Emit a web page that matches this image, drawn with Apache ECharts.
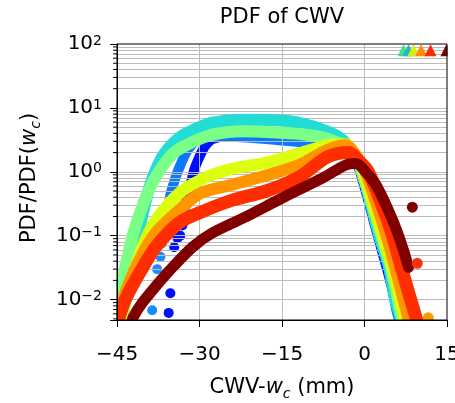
<!DOCTYPE html>
<html>
<head>
<meta charset="utf-8">
<script src="https://cdn.jsdelivr.net/npm/echarts@6/dist/echarts.min.js"></script>
<style>
  html, body { margin: 0; padding: 0; background: #fff; }
  #chart { width: 455px; height: 403px; }
</style>
</head>
<body>
<div id="chart"></div>
<script>
// Normalised PDFs of CWV relative to the critical value w_c, one curve per class.
const blueCurve = [[-33.1, 0.145], [-32.6, 0.30], [-31.7, 0.58], [-31.0, 1.05], [-29.9, 1.8], [-28.9, 2.6], [-27.5, 3.3], [-24, 3.7], [-18, 3.6], [-10, 3.0], [-4.4, 2.5], [-2.2, 1.8], [-0.8, 1.0], [2.4, 0.1], [4.1, 0.03], [6.1, 0.0068], [6.8, 0.004]];
const blueDots = [[-33.5, 0.10], [-34.0, 0.091], [-34.6, 0.066], [-35.3, 0.0126], [-35.6, 0.0062]];
const azureCurve = [[-36.4, 0.11], [-36.0, 0.17], [-35.3, 0.43], [-34.4, 0.79], [-33.5, 1.26], [-32.0, 2.3], [-29.9, 3.3], [-27.5, 3.6], [-20.8, 3.4], [-15, 3.1], [-9.8, 2.8], [-4.4, 2.4], [-2.2, 1.8], [-0.6, 1.0], [2.9, 0.1], [4.3, 0.031], [5.8, 0.0068], [6.5, 0.004]];
const azureDots = [[-36.8, 0.076], [-37.1, 0.047], [-37.7, 0.030], [-38.6, 0.0068]];
const cyanCurve = [[-44.2, 0.004], [-43.7, 0.0076], [-42.6, 0.032], [-40.9, 0.135], [-39.1, 0.57], [-36.8, 1.7], [-33.7, 3.4], [-30, 5.0], [-27.7, 5.9], [-22, 6.5], [-16, 6.4], [-11.7, 5.8], [-6.8, 4.3], [-3.9, 3.1], [-1.3, 1.5], [-0.4, 1.0], [2.7, 0.1], [4.5, 0.032], [5.6, 0.01], [6.3, 0.0063], [6.8, 0.004]];
const greenCurve = [[-45.3, 0.004], [-45, 0.0076], [-43.5, 0.032], [-41.7, 0.135], [-38.6, 0.66], [-34.9, 1.9], [-31, 3.0], [-27.7, 3.8], [-22, 4.3], [-17.6, 4.2], [-11.7, 3.9], [-6.8, 3.3], [-2.6, 2.2], [-0.8, 1.2], [3.1, 0.1], [4.8, 0.032], [6.6, 0.0063], [7.1, 0.004]];
const yellowCurve = [[-44.4, 0.004], [-44.0, 0.0062], [-42.2, 0.022], [-40.4, 0.066], [-38.0, 0.17], [-33.7, 0.46], [-28.9, 0.81], [-24.0, 1.12], [-17.6, 1.4], [-11.7, 1.96], [-6.8, 2.6], [-3.5, 2.7], [-1.3, 1.6], [-0.2, 1.0], [3.3, 0.1], [5.1, 0.032], [7.0, 0.0063], [7.5, 0.004]];
const orangeCurve = [[-44.8, 0.004], [-44.4, 0.0057], [-43.5, 0.0126], [-40.9, 0.042], [-38.0, 0.11], [-33.7, 0.25], [-29.9, 0.46], [-24.0, 0.63], [-17.6, 0.89], [-11.7, 1.3], [-6.8, 2.2], [-3.5, 2.6], [-1.1, 1.6], [0.2, 1.0], [4.0, 0.1], [6.2, 0.02], [7.7, 0.0063], [8.3, 0.004]];
const redCurve = [[-45, 0.0045], [-44.6, 0.0054], [-43.5, 0.010], [-40.9, 0.026], [-38.0, 0.066], [-33.7, 0.16], [-28.9, 0.25], [-24.0, 0.36], [-17.6, 0.51], [-11.7, 0.85], [-6.8, 1.7], [-2.9, 2.0], [-0.75, 1.4], [0.7, 1.0], [2.9, 0.35], [5.1, 0.1], [6.7, 0.032], [8.4, 0.01], [9.6, 0.0045]];
const darkRedCurve = [[-42.5, 0.004], [-42.0, 0.0054], [-40.4, 0.0089], [-38.0, 0.016], [-34.9, 0.032], [-31.3, 0.066], [-27.7, 0.11], [-22.0, 0.19], [-14.7, 0.40], [-7.5, 0.81], [-3.5, 1.27], [-1.6, 1.35], [0.2, 1.0], [2.3, 0.58], [5.3, 0.16], [7.1, 0.059], [8.0, 0.032]];
const strayDots = [[8.7, 0.28, '#800000'], [9.6, 0.037, '#ff3010'], [11.6, 0.0052, '#ff9a00']];
// Markers along the top of the panel
const triangleX = [7.1, 8.0, 8.9, 10.3, 12.0, 14.9];
const triangleY = 80;
const triangleColors = ['#3fe08a', '#20b8c8', '#d8ec10', '#ff8c00', '#ff2a00', '#800000'];

// Axis ticks and grid lines
const xTicks = { min: -45, max: 15, step: 15 };
const xGridLines = [-30, -15, 0];
const yRange = { min: 0.0048, max: 100 };
const yMajorLines = [0.01, 0.1, 1, 10];
const minorMantissas = [2, 3, 4, 5, 6, 7, 8, 9];
const minorDecades = [0.001, 0.01, 0.1, 1, 10];

const FONT = 'DejaVu Sans';
const GRID_COLOR = '#bcbcbc';
const PLOT = { left: 117, right: 8, top: 44, bottom: 83, width: 455, height: 403 };

const minorTicks = [];
minorDecades.forEach(d => minorMantissas.forEach(m => {
  const v = +(m * d).toPrecision(3);
  if (v > yRange.min && v < yRange.max) minorTicks.push(v);
}));

function minus(v) { return v < 0 ? '\u2212' + (-v) : String(v); }
function powLabel(v) {
  const e = Math.log10(v);
  const r = Math.round(e);
  if (Math.abs(e - r) > 1e-6) return '';
  return '{b|10}{s|' + minus(r) + '}';
}

function curve(data, color, width, z) {
  return {
    type: 'line', data: data, smooth: 0.3,
    symbol: 'none', showSymbol: false, clip: true, z: z, silent: true,
    lineStyle: { color: color, width: width, cap: 'round', join: 'round' }
  };
}
function dots(data, color, size, z) {
  return {
    type: 'scatter', data: data, symbolSize: size, z: z, silent: true,
    itemStyle: { color: color, opacity: 1 }
  };
}
function mask(x, y, w, h) {
  return { type: 'rect', z: 15, silent: true, shape: { x: x, y: y, width: w, height: h }, style: { fill: '#fff' } };
}
const axisNameRich = {
  n: { fontFamily: FONT, fontSize: 21, lineHeight: 21, fill: '#000', verticalAlign: 'top' },
  i: { fontFamily: FONT, fontSize: 21, lineHeight: 21, fontStyle: 'italic', fill: '#000', verticalAlign: 'top' },
  sub: { fontFamily: FONT, fontSize: 14, lineHeight: 14, fontStyle: 'italic', fill: '#000', padding: [10, 0, 0, 0], verticalAlign: 'top' }
};

const plotRight = PLOT.width - PLOT.right;
const plotBottom = PLOT.height - PLOT.bottom;

const chart = echarts.init(document.getElementById('chart'), null, { renderer: 'canvas' });
chart.setOption({
  animation: false,
  backgroundColor: '#fff',
  grid: {
    left: PLOT.left, right: PLOT.right, top: PLOT.top, bottom: PLOT.bottom,
    containLabel: false, outerBoundsMode: 'none', z: 16,
    show: true, borderColor: '#000', borderWidth: 1, backgroundColor: 'transparent'
  },
  xAxis: {
    type: 'value', min: xTicks.min, max: xTicks.max, interval: xTicks.step, z: 20,
    axisLine: { show: true, onZero: false, lineStyle: { color: '#000', width: 1 } },
    axisTick: { show: true, inside: false, length: 7, lineStyle: { color: '#000', width: 1 } },
    axisLabel: { color: '#000', fontFamily: FONT, fontSize: 20, margin: 25, formatter: v => minus(v) },
    splitLine: { show: false }
  },
  yAxis: {
    type: 'log', logBase: 10, min: yRange.min, max: yRange.max, z: 20,
    axisLine: { show: true, onZero: false, lineStyle: { color: '#000', width: 1 } },
    axisTick: { show: true, inside: false, length: 7, lineStyle: { color: '#000', width: 1 } },
    axisLabel: {
      color: '#000', margin: 15, formatter: powLabel,
      rich: {
        b: { fontFamily: FONT, fontSize: 20, color: '#000', lineHeight: 20, padding: [4, 0, 0, 0], verticalAlign: 'bottom' },
        s: { fontFamily: FONT, fontSize: 14, color: '#000', lineHeight: 14, verticalAlign: 'top' }
      }
    },
    splitLine: { show: false }
  },
  series: [
    {
      // grid lines (major and minor), kept beneath the curves
      type: 'scatter', data: [[xTicks.min, 1]], symbolSize: 0, z: 1, silent: true,
      markLine: {
        silent: true, symbol: 'none', label: { show: false }, animation: false,
        lineStyle: { color: GRID_COLOR, width: 1, type: 'solid' },
        data: yMajorLines.concat(minorTicks).map(v => ({ yAxis: v }))
          .concat(xGridLines.map(v => ({ xAxis: v })))
      }
    },
    {
      // minor log ticks on the left spine
      type: 'scatter', data: minorTicks.map(v => [xTicks.min, v]), clip: false, z: 21, silent: true,
      symbol: 'rect', symbolSize: [4, 1], symbolOffset: [-2, 0], itemStyle: { color: '#000', opacity: 1 }
    },
    curve(blueCurve, '#0010ff', 10, 3),
    dots(blueDots, '#0010ff', 10, 3),
    curve(azureCurve, '#0a78ff', 10, 4),
    dots(azureDots, '#1a8cff', 10, 4),
    curve(cyanCurve, '#22dcd6', 12, 5),
    curve(greenCurve, '#7cff86', 12, 6),
    curve(yellowCurve, '#dcff10', 12, 7),
    curve(orangeCurve, '#ff9600', 12, 8),
    curve(redCurve, '#ff2e00', 13, 9),
    curve(darkRedCurve, '#800000', 11, 10),
    {
      type: 'scatter', z: 11, silent: true, symbolSize: 11,
      data: strayDots.map(d => ({ value: [d[0], d[1]], itemStyle: { color: d[2], opacity: 1 } }))
    },
    {
      type: 'scatter', z: 12, silent: true, symbol: 'triangle', symbolSize: 12, clip: false,
      data: triangleX.map((x, i) => ({ value: [x, triangleY], itemStyle: { color: triangleColors[i], opacity: 1 } }))
    }
  ],
  graphic: [
    // keep thick strokes inside the frame
    mask(100, plotBottom + 0.5, 355, 12),
    mask(103, 28, PLOT.left - 103 - 0.5, plotBottom - 28 + 12),
    mask(plotRight + 0.5, 28, 12, plotBottom - 28 + 12),
    mask(103, 28, 352, PLOT.top - 28 - 0.5),
    {
      type: 'text', x: 282, y: 18, silent: true,
      style: { text: 'PDF of CWV', font: '21px "DejaVu Sans"', fill: '#000', align: 'center', verticalAlign: 'middle' }
    },
    {
      type: 'text', x: 282, y: 388, silent: true,
      style: { text: '{n|CWV-}{i|w}{sub|c}{n| (mm)}', align: 'center', verticalAlign: 'middle', rich: axisNameRich }
    },
    {
      type: 'text', x: 30, y: 178, rotation: Math.PI / 2, silent: true,
      style: { text: '{n|PDF/PDF(}{i|w}{sub|c}{n|)}', align: 'center', verticalAlign: 'middle', rich: axisNameRich }
    }
  ]
});
</script>
</body>
</html>
